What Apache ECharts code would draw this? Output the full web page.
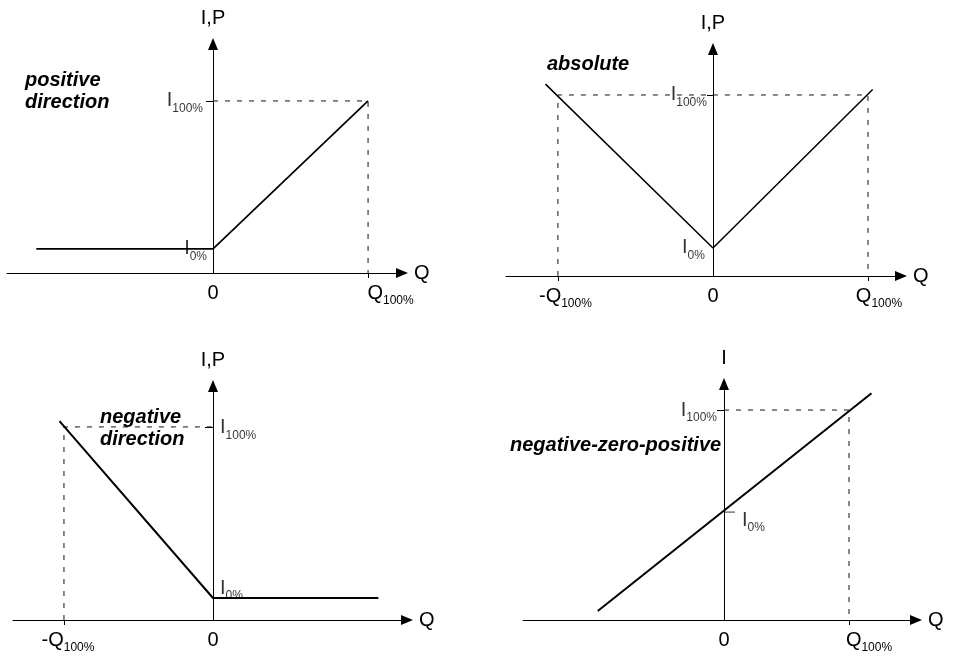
<!DOCTYPE html>
<html>
<head>
<meta charset="utf-8">
<script src="https://cdn.jsdelivr.net/npm/echarts@6/dist/echarts.min.js"></script>
<style>
  html, body { margin: 0; background: #fff; }
  #chart { width: 954px; height: 659px; }
</style>
</head>
<body>
<div id="chart"></div>
<script>
// x in units of Q100%, y in units of I100%

// positive direction
var posLine = [[-1.14, 0.14], [0, 0.14], [1, 1]];
var posGuide = [[0, 1], [1, 1], [1, 0]];
var posXLabels = [0, 1];
var posYLabels = [0.14, 1];

// absolute
var absLine = [[-1.08, 1.06], [0, 0.155], [1.03, 1.03]];
var absGuide = [[-1, 0], [-1, 1], [1, 1], [1, 0]];
var absXLabels = [-1, 0, 1];
var absYLabels = [0.155, 1];

// negative direction
var negLine = [[-1.03, 1.03], [0, 0.114], [1.11, 0.114]];
var negGuide = [[-1, 0], [-1, 1], [0, 1]];
var negXLabels = [-1, 0];
var negYLabels = [0.114, 1];

// negative-zero-positive
var nzpLine = [[-1.01, 0.043], [1.18, 1.08]];
var nzpGuide = [[0, 1], [1, 1], [1, 0]];
var nzpXLabels = [0, 1];
var nzpYLabels = [0.514, 1];

var FONT = '"Liberation Sans", Arial, Helvetica, sans-serif';

var chart = echarts.init(document.getElementById('chart'));

function richStyles(padQ, padMQ) {
  return {
    m: {fontSize: 20, lineHeight: 28, verticalAlign: 'middle', fontFamily: FONT, color: '#000'},
    s: {fontSize: 12, lineHeight: 12, verticalAlign: 'bottom', fontFamily: FONT, color: '#000'},
    q: {fontSize: 20, lineHeight: 28, verticalAlign: 'middle', fontFamily: FONT, color: '#000', padding: [0, 0, 0, padQ || 0]},
    mq: {fontSize: 20, lineHeight: 28, verticalAlign: 'middle', fontFamily: FONT, color: '#000', padding: [0, 0, 0, padMQ || 0]}
  };
}

function xText(v) {
  if (v === 0) return '{m|0}';
  if (v > 0) return '{q|Q}{s|100%}';
  return '{mq|-Q}{s|100%}';
}
function yText(v) {
  return v === 1 ? '{m|I}{s|100%}' : '{m|I}{s|0%}';
}

// label placement for [I0%, I100%]: side, distance, offset
var panels = [
  {title: 'positive\ndirection', tpos: [25, 69], box: [7, 44, 395, 229], xr: [-1.329, 1.219], ymax: 1.331,
   yName: 'I,P', lw: 1.7, line: posLine, guide: posGuide, xl: posXLabels, yl: posYLabels,
   ylPos: [['left', 6, [0, 0]], ['left', 10, [0, 0]]],
   xt: [1], ytLen: 7, padQ: 45, padMQ: 0},
  {title: 'absolute', tpos: [547, 53], box: [506, 49, 395, 227], xr: [-1.335, 1.213], ymax: 1.254,
   yName: 'I,P', lw: 1.5, line: absLine, guide: absGuide, xl: absXLabels, yl: absYLabels,
   ylPos: [['left', 8, [0, 0]], ['left', 6, [0, 0]]],
   xt: [-1, 1], ytLen: 6, padQ: 22, padMQ: 15},
  {title: 'negative\ndirection', tpos: [100, 406], box: [13, 386, 394, 234], xr: [-1.342, 1.302], ymax: 1.212,
   yName: 'I,P', lw: 2, line: negLine, guide: negGuide, xl: negXLabels, yl: negYLabels,
   ylPos: [['right', 7, [0, -10]], ['right', 7, [0, 1]]],
   xt: [-1], ytLen: 8, padQ: 0, padMQ: 8},
  {title: 'negative-zero-positive', tpos: [510, 434], box: [523, 384, 393, 236], xr: [-1.608, 1.536], ymax: 1.124,
   yName: 'I', lw: 2, line: nzpLine, guide: nzpGuide, xl: nzpXLabels, yl: nzpYLabels,
   ylPos: [['right', 18, [0, 8]], ['left', 7, [0, 0]]],
   xt: [1], ytLen: 7, padQ: 40, padMQ: 0, zeroTick: true}
];

var option = {
  animation: false,
  backgroundColor: '#fff',
  title: [], grid: [], xAxis: [], yAxis: [], series: []
};

var axisLine = {
  onZero: true,
  symbol: ['none', 'triangle'],
  symbolSize: [10, 12],
  lineStyle: {color: '#000', width: 1}
};

panels.forEach(function (p, i) {
  option.title.push({
    text: p.title, left: p.tpos[0], top: p.tpos[1], padding: 0,
    textStyle: {fontFamily: FONT, fontSize: 20, fontWeight: 'bold', fontStyle: 'italic', color: '#000', lineHeight: 22}
  });
  option.grid.push({left: p.box[0], top: p.box[1], width: p.box[2], height: p.box[3], outerBoundsMode: 'none'});
  option.xAxis.push({
    type: 'value', gridIndex: i, min: p.xr[0], max: p.xr[1],
    name: 'Q', nameLocation: 'end', nameGap: 12,
    nameTextStyle: {fontFamily: FONT, fontSize: 20, color: '#000'},
    axisLine: axisLine,
    axisTick: {show: true, customValues: p.xt, length: 5, lineStyle: {color: '#000'}},
    axisLabel: {customValues: p.xl, margin: 6, color: '#000', formatter: xText, rich: richStyles(p.padQ, p.padMQ)},
    splitLine: {show: false}
  });
  option.yAxis.push({
    type: 'value', gridIndex: i, min: 0, max: p.ymax,
    name: p.yName, nameLocation: 'end', nameGap: 16,
    nameTextStyle: {fontFamily: FONT, fontSize: 20, color: '#000', align: 'center'},
    axisLine: axisLine,
    axisTick: {show: true, customValues: [1], length: p.ytLen, lineStyle: {color: '#000'}},
    axisLabel: {show: false},
    splitLine: {show: false}
  });
  option.series.push({
    type: 'line', xAxisIndex: i, yAxisIndex: i, data: p.guide,
    showSymbol: false, silent: true,
    lineStyle: {color: '#111', width: 1, type: [5, 7]}
  });
  option.series.push({
    type: 'line', xAxisIndex: i, yAxisIndex: i, data: p.line,
    showSymbol: false, silent: true,
    lineStyle: {color: '#000', width: p.lw}
  });
  // I-level labels sit on the vertical axis (x = 0)
  option.series.push({
    type: 'scatter', xAxisIndex: i, yAxisIndex: i, silent: true, symbolSize: 0,
    data: p.yl.map(function (v, k) {
      var pos = p.ylPos[k];
      return {
        value: [0, v],
        label: {show: true, position: pos[0], distance: pos[1], offset: pos[2], color: '#000',
                formatter: function () { return yText(v); }, rich: richStyles()}
      };
    })
  });
  if (p.zeroTick) {
    option.series.push({
      type: 'scatter', xAxisIndex: i, yAxisIndex: i, silent: true,
      symbol: 'rect', symbolSize: [11, 1], symbolOffset: [5.5, 0],
      itemStyle: {color: '#000'},
      data: [[0, p.yl[0]]]
    });
  }
});

chart.setOption(option);
</script>
</body>
</html>
